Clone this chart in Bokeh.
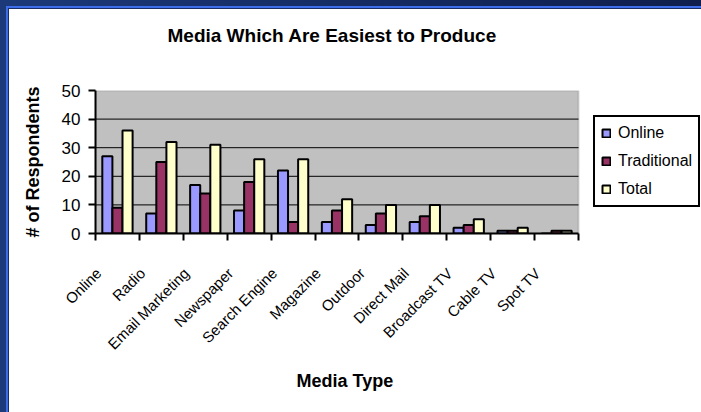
import math

from bokeh.embed import file_html
from bokeh.layouts import column
from bokeh.models import (BoxAnnotation, ColumnDataSource, FixedTicker, Legend,
                          LegendItem, LinearAxis, Range1d, Title)
from bokeh.plotting import figure
from bokeh.resources import INLINE
from bokeh.transform import dodge

# --- survey data -----------------------------------------------------------
media = ["Online", "Radio", "Email Marketing", "Newspaper", "Search Engine",
         "Magazine", "Outdoor", "Direct Mail", "Broadcast TV", "Cable TV",
         "Spot TV"]
online = [27, 7, 17, 8, 22, 4, 3, 4, 2, 1, 0]
traditional = [9, 25, 14, 18, 4, 8, 7, 6, 3, 1, 1]
total = [36, 32, 31, 26, 26, 12, 10, 10, 5, 2, 1]
y_ticks = [0, 10, 20, 30, 40, 50]

FONT = "Liberation Sans"
n = len(media)
Y_MAX = 50

# the frame runs to the right edge so the legend can sit beside the plot
# area; the plot area itself covers the first n units
X_END = n * 606 / 483

source = ColumnDataSource(dict(media=media, slot=[i + 0.5 for i in range(n)],
                               online=online, traditional=traditional,
                               total=total))

p = figure(width=692, height=403, title=None,
           x_range=Range1d(0, X_END), y_range=Range1d(0, Y_MAX),
           x_axis_location=None,
           output_backend="svg", toolbar_location=None,
           min_border_left=86, min_border_right=0,
           min_border_top=81, min_border_bottom=179,
           border_fill_color="white", background_fill_color="white",
           outline_line_color=None)
p.margin = (9, 0, 0, 9)

# title, lifted above the frame by an empty spacer title
p.add_layout(Title(text=" ", text_font_size="1px", standoff=42), "above")
p.add_layout(Title(text="Media Which Are Easiest to Produce", align="left",
                   offset=72, standoff=0, text_font=FONT,
                   text_font_size="19px", text_font_style="bold",
                   text_color="black"), "above")

# grey plot area with its grey top/right border
p.add_layout(BoxAnnotation(left=0, right=n, bottom=0, top=Y_MAX,
                           fill_color="#C0C0C0", fill_alpha=1,
                           line_color="#808080", line_width=2,
                           level="underlay"))

# horizontal gridlines across the plot area
grid_y = [t for t in y_ticks if 0 < t < Y_MAX]
p.segment(x0=[0] * len(grid_y), x1=[n] * len(grid_y), y0=grid_y, y1=grid_y,
          line_color="black", line_width=1)

# bars
bar_w = 0.23
r_on = p.vbar(x=dodge("slot", -bar_w), top="online",
              width=bar_w, source=source, fill_color="#9999FF",
              line_color="black", line_width=2)
r_tr = p.vbar(x=dodge("slot", 0.0), top="traditional",
              width=bar_w, source=source, fill_color="#993366",
              line_color="black", line_width=2)
r_to = p.vbar(x=dodge("slot", bar_w), top="total",
              width=bar_w, source=source, fill_color="#FFFFCC",
              line_color="black", line_width=2)

# y axis
yax = p.yaxis[0]
yax.ticker = FixedTicker(ticks=y_ticks)
yax.axis_line_width = 2
yax.major_tick_line_width = 2
yax.major_tick_out = 7
yax.major_tick_in = 0
yax.minor_tick_line_color = None
yax.major_label_standoff = 8
yax.major_label_text_font = FONT
yax.major_label_text_font_size = "17px"
yax.major_label_text_color = "black"
yax.axis_label = "# of Respondents"
yax.axis_label_text_font = FONT
yax.axis_label_text_font_size = "18px"
yax.axis_label_text_font_style = "bold"
yax.axis_label_text_color = "black"
yax.axis_label_standoff = 16

p.xgrid.visible = False
p.ygrid.visible = False

# x axis: tick marks between categories, names below them
p.extra_x_ranges = {"names": Range1d(-0.07, X_END - 0.07)}

edge_axis = LinearAxis(ticker=FixedTicker(ticks=list(range(n + 1))),
                       bounds=(0, n),
                       major_label_overrides={i: "" for i in range(n + 1)},
                       axis_line_width=2, major_tick_line_width=2,
                       major_tick_out=7, major_tick_in=0,
                       minor_tick_line_color=None, major_label_standoff=0)
p.add_layout(edge_axis, "below")

name_axis = LinearAxis(x_range_name="names",
                       ticker=FixedTicker(ticks=list(range(n))),
                       bounds=(-0.07, n - 0.07),
                       major_label_overrides={i: m for i, m in enumerate(media)},
                       major_label_orientation=math.pi / 4,
                       axis_line_color=None, major_tick_line_color=None,
                       major_tick_out=0, major_tick_in=0,
                       minor_tick_line_color=None, major_label_standoff=30,
                       major_label_text_font=FONT,
                       major_label_text_font_size="15px",
                       major_label_text_color="black")
p.add_layout(name_axis, "below")

# x axis title, centred under the plot area
p.add_layout(Title(text="Media Type", align="left", offset=201, standoff=14,
                   text_font=FONT, text_font_size="18px",
                   text_font_style="bold", text_color="black"), "below")

# legend to the right of the plot area
legend = Legend(items=[LegendItem(label="Online", renderers=[r_on]),
                       LegendItem(label="Traditional", renderers=[r_tr]),
                       LegendItem(label="Total", renderers=[r_to])],
                location=(498, 26), margin=0, padding=6, spacing=8,
                label_height=20, glyph_width=10, glyph_height=10,
                label_standoff=7, label_text_font=FONT,
                label_text_font_size="16px", label_text_color="black",
                border_line_color="black", border_line_width=2,
                border_line_alpha=1.0,
                background_fill_color="white", background_fill_alpha=1)
p.add_layout(legend)

root = column(p, styles={
    "background": ("linear-gradient(#ffffff, #ffffff) 9px 9px / 100% 100% no-repeat, "
                   "linear-gradient(#1a2c66, #1a2c66) 8px 8px / 100% 100% no-repeat, "
                   "linear-gradient(#3d6de8, #3d6de8) 6px 6px / 100% 100% no-repeat, "
                   "linear-gradient(to right, #1c3979, #0f1e4c)"),
})

open("out.html", "w").write(file_html(root, INLINE))
